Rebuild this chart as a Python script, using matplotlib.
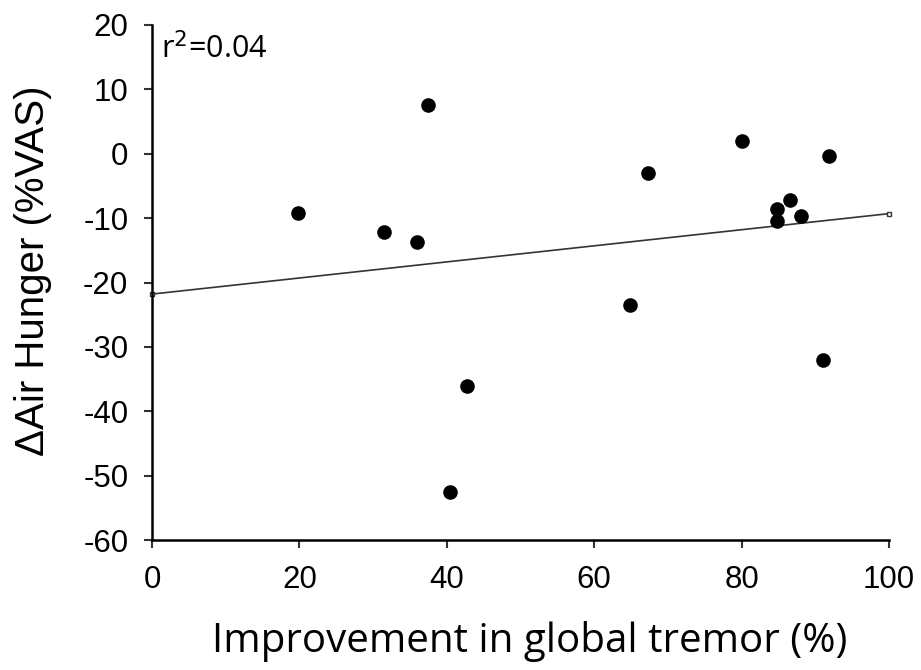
import numpy as np
import matplotlib
matplotlib.use("Agg")
import matplotlib.pyplot as plt

plt.rcParams["axes.unicode_minus"] = False

# improvement in global tremor (%) vs change in air hunger (%VAS)
tremor = [19.8, 31.5, 36.0, 37.5, 40.5, 42.8, 64.8, 67.3, 80.0, 84.8, 84.8, 86.5, 88.0, 91.8, 91.0]
air_hunger = [-9.2, -12.2, -13.7, 7.5, -52.5, -36.0, -23.5, -3.0, 2.0, -8.6, -10.4, -7.2, -9.6, -0.3, -32.1]

# regression line as drawn in the figure
fit_x = [0, 100]
fit_y = [-21.8, -9.3]
r2_label = "r$^2$=0.04"

xticks = [0, 20, 40, 60, 80, 100]
yticks = [20, 10, 0, -10, -20, -30, -40, -50, -60]

fig = plt.figure(figsize=(9.21, 6.70), dpi=100)
ax = fig.add_axes([0.165, 0.194, 0.8003, 0.7687])

ax.plot(fit_x, fit_y, color="#333333", lw=1.2, marker="s", markersize=3,
        markerfacecolor="white", markeredgecolor="#333333", clip_on=False, zorder=2)
ax.scatter(tremor, air_hunger, s=90, color="black", zorder=3, clip_on=False)

ax.set_xlim(0, 100)
ax.set_ylim(-60, 20)
ax.set_xticks(xticks)
ax.set_yticks(yticks)
ax.spines["top"].set_visible(False)
ax.spines["right"].set_visible(False)
for s in ["left", "bottom"]:
    ax.spines[s].set_linewidth(1.8)
ax.tick_params(direction="out", length=6, width=1.5, labelsize=22.5, color="#333333")
ax.tick_params(axis="y", pad=11)
ax.tick_params(axis="x", pad=12)
for lab in ax.get_xticklabels() + ax.get_yticklabels():
    lab.set_family("Liberation Sans")

ax.set_ylabel("ΔAir Hunger (%VAS)", fontsize=29, family="Liberation Sans")
ax.yaxis.set_label_coords(-0.135, 0.522)
ax.set_xlabel("Improvement in global tremor (%)", fontsize=29, family="Open Sans")
ax.xaxis.set_label_coords(0.513, -0.158)
ax.text(0.012, 0.985, r2_label, transform=ax.transAxes, fontsize=22, family="Open Sans",
        va="top", ha="left")

fig.savefig("out.png", dpi=100)
